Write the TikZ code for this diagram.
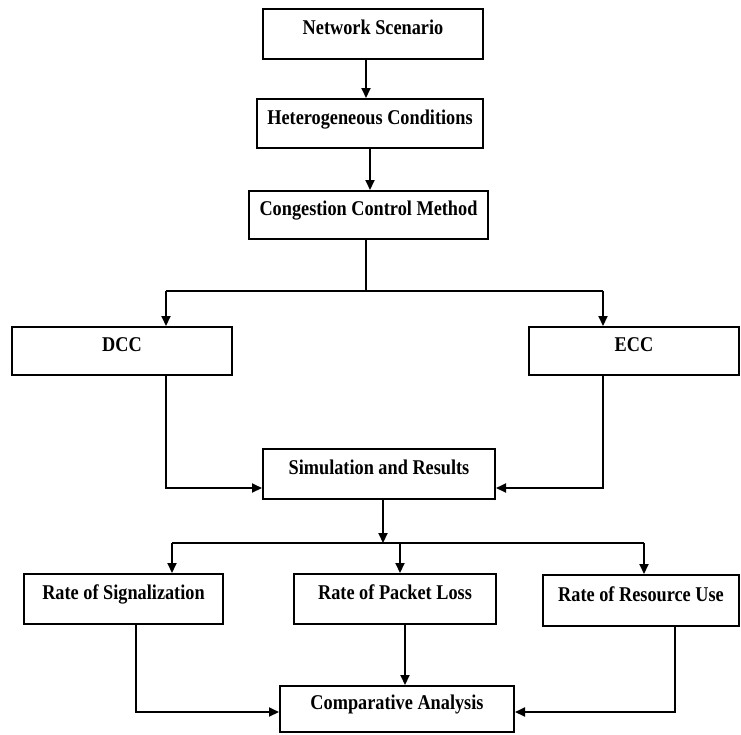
\documentclass[tikz,border=0pt]{standalone}
\usepackage{fontspec}
\setmainfont{Liberation Serif}[FakeStretch=0.87]
\usetikzlibrary{arrows.meta}
\begin{document}
\begin{tikzpicture}[x=1pt,y=-1pt,
  box/.style={draw,line width=2pt,rectangle,inner sep=0pt,
    font=\bfseries\fontsize{21}{25}\selectfont,text height=10pt,text depth=9pt},
  conn/.style={line width=2pt},
  arr/.style={conn,-{Triangle[length=10pt,width=9pt]}}]
\useasboundingbox (0,0) rectangle (741,734);
\node[box,minimum width=220pt,minimum height=50pt] (ns) at (373,34) {Network Scenario};
\node[box,minimum width=226pt,minimum height=49pt] (hc) at (370,123.5) {Heterogeneous Conditions};
\node[box,minimum width=239pt,minimum height=48pt] (ccm) at (368.5,215) {Congestion Control Method};
\node[box,minimum width=220pt,minimum height=48pt] (dcc) at (122,351) {DCC};
\node[box,minimum width=210pt,minimum height=48pt] (ecc) at (634,351) {ECC};
\node[box,minimum width=232pt,minimum height=50pt] (sim) at (379,474) {Simulation and Results};
\node[box,minimum width=199pt,minimum height=50pt] (ros) at (123.5,599) {Rate of Signalization};
\node[box,minimum width=202pt,minimum height=50pt] (rpl) at (395,599) {Rate of Packet Loss};
\node[box,minimum width=196pt,minimum height=51pt] (rru) at (641,600.5) {Rate of Resource Use};
\node[box,minimum width=234pt,minimum height=46pt] (ca) at (397,709) {Comparative Analysis};
\coordinate (j1) at (366,291);
\coordinate (j2) at (383,543);
% top chain
\draw[arr] ([xshift=-7pt]ns.south) -- ([xshift=-7pt]ns.south |- hc.north);
\draw[arr] (hc.south) -- (hc.south |- ccm.north);
\draw[conn] (ccm.south -| j1) -- (j1);
\draw[conn] ([xshift=44pt]dcc.north |- j1) -- ([xshift=-31pt]ecc.north |- j1);
\draw[arr] ([xshift=44pt]dcc.north |- j1) -- ([xshift=44pt]dcc.north);
\draw[arr] ([xshift=-31pt]ecc.north |- j1) -- ([xshift=-31pt]ecc.north);
% to simulation
\draw[arr] ([xshift=44pt]dcc.south) |- ([yshift=-14pt]sim.west);
\draw[arr] ([xshift=-31pt]ecc.south) |- ([yshift=-14pt]sim.east);
% split two
\draw[arr] (sim.south -| j2) -- (j2);
\draw[conn] ([xshift=48.5pt]ros.north |- j2) -- ([xshift=3pt]rru.north |- j2);
\draw[arr] ([xshift=48.5pt]ros.north |- j2) -- ([xshift=48.5pt]ros.north);
\draw[arr] ([xshift=5pt]rpl.north |- j2) -- ([xshift=5pt]rpl.north);
\draw[arr] ([xshift=3pt]rru.north |- j2) -- ([xshift=3pt]rru.north);
% to comparative
\draw[arr] ([xshift=12.5pt]ros.south) |- ([yshift=-3pt]ca.west);
\draw[arr] ([xshift=10pt]rpl.south) -- ([xshift=10pt]rpl.south |- ca.north);
\draw[arr] ([xshift=34pt]rru.south) |- ([yshift=-3pt]ca.east);
\end{tikzpicture}
\end{document}
